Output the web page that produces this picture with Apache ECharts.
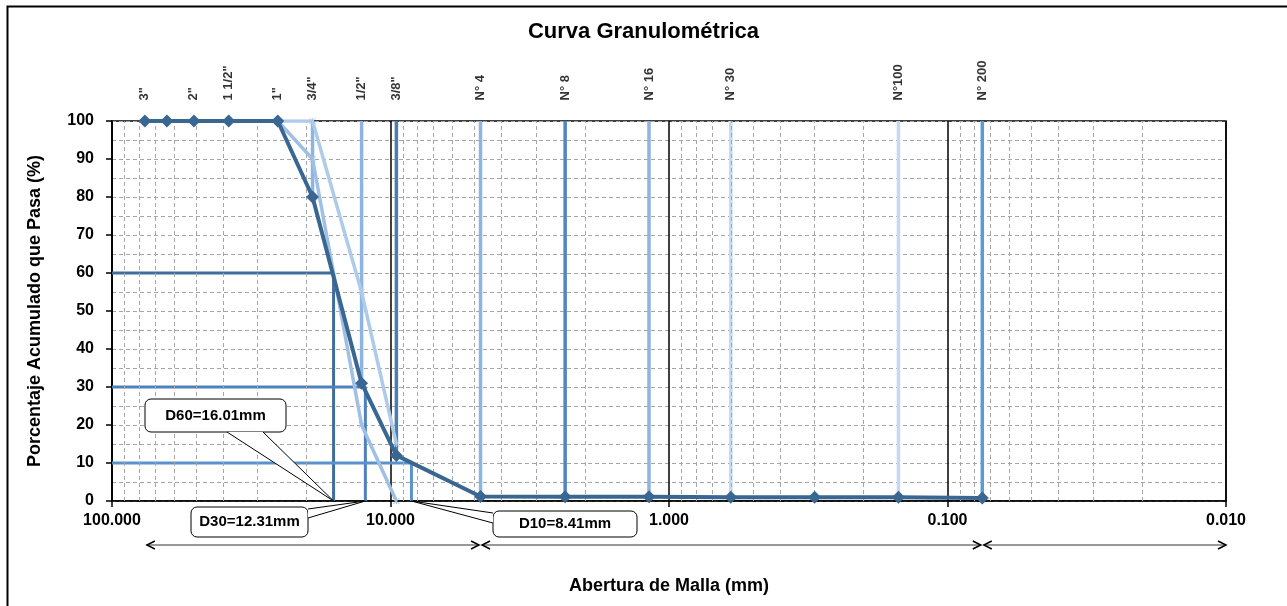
<!DOCTYPE html>
<html><head><meta charset="utf-8">
<script src="https://cdn.jsdelivr.net/npm/echarts@6/dist/echarts.min.js"></script>
<style>html,body{margin:0;padding:0;background:#fff}#c{width:1287px;height:606px}</style>
</head><body><div id="c"></div>
<script>
const FONT = "'Liberation Sans',Arial,Helvetica,sans-serif";

// Sieve names and openings (mm)
const sieveNames = ['3"','2"','1 1/2"','1"','3/4"','1/2"','3/8"','N° 4','N° 8','N° 16','N° 30','N°100','N° 200'];
const sieveOpenings = [76.2,50.8,38.1,25.4,19.05,12.7,9.525,4.75,2.36,1.18,0.6,0.15,0.075];

// Granulometric curve (mm, % passing)
const curveSizes = [76.2,63.5,50.8,38.1,25.4,19.05,12.7,9.525,4.75,2.36,1.18,0.6,0.3,0.15,0.075];
const curvePassing = [100,100,100,100,100,80,31,12,1.2,1.1,1.1,1.0,1.0,1.0,0.8];

// Specification band
const bandSizes = [25.4,19.05,12.7,9.525];
const bandUpper = [100,100,55,15];
const bandLower = [100,90,20,0];

// Sieve reference lines (from 100% down to the curve)
const refSieves = [19.05,12.7,9.525,4.75,2.36,1.18,0.6,0.15,0.075];
const refPassing = [80,31,12,1.2,1.1,1.1,1.0,1.0,0.8];
const refColors = ['#8db4e2','#8db4e2','#4a7db0','#8db4e2','#4f86c0','#8db4e2','#c5d9f1','#c5d9f1','#5b9bd5'];

// Effective diameters
const dNames = ['D60','D30','D10'];
const dPercent = [60,30,10];
const dSizes = [16.01,12.31,8.41];
const dColors = ['#3f6e9c','#4f81bd','#5a92cc'];

// Soil fraction arrows (boundaries, mm)
const fractionBounds = [76.2,4.75,0.075,0.01];

// Axis
const xMin = 0.01, xMax = 100;
const minorGrid = [];
[10,1,0.1,0.01].forEach(d=>{for(let m=2;m<=9;m++) minorGrid.push(+(m*d).toPrecision(3));});

const chart = echarts.init(document.getElementById('c'));
const series = [];
series.push({type:'line', data:[], z:1, silent:true,
  markLine:{silent:true, symbol:'none', animation:false, label:{show:false},
    lineStyle:{type:[4,3], color:'#a6a6a6', width:1},
    data: minorGrid.map(v=>({xAxis:v}))}});
refSieves.forEach((s,i)=>{
  series.push({type:'line', data:[[s,100],[s,refPassing[i]]], symbol:'none', z:3,
    lineStyle:{color:refColors[i], width:3.5}});
});
dSizes.forEach((d,i)=>{
  series.push({type:'line', data:[[xMax,dPercent[i]],[d,dPercent[i]],[d,0]], symbol:'none', z:4,
    lineStyle:{color:dColors[i], width:3}});
});
const crossSym = 'path://M0,0L10,10M10,0L0,10M5,0L5,10';
series.push({type:'line', data:bandSizes.map((s,i)=>[s,bandLower[i]]), z:5,
  symbol:crossSym, symbolSize:6, itemStyle:{color:'#9fc0e4', borderColor:'#9fc0e4', borderWidth:1},
  lineStyle:{color:'#9fc0e4', width:3.5}});
series.push({type:'line', data:bandSizes.map((s,i)=>[s,bandUpper[i]]), z:5,
  symbol:crossSym, symbolSize:6, itemStyle:{color:'#aecbea', borderColor:'#aecbea', borderWidth:1},
  lineStyle:{color:'#aecbea', width:3.5}});
series.push({type:'line', data:curveSizes.map((s,i)=>[s,curvePassing[i]]), z:8,
  symbol:'diamond', symbolSize:13, itemStyle:{color:'#3a6792'},
  lineStyle:{color:'#3a6792', width:4}});
series.push({type:'scatter', data:sieveOpenings.map((s,i)=>({value:[s,100], name:sieveNames[i]})), z:9,
  symbolSize:1, itemStyle:{color:'rgba(0,0,0,0)'}, silent:true,
  label:{show:true, formatter:p=>p.name, position:'top', distance:20, rotate:90,
    align:'left', verticalAlign:'middle', fontFamily:FONT, fontWeight:'bold', fontSize:13, color:'#000'}});

chart.setOption({
  animation:false,
  title:{text:'Curva Granulométrica', left:'center', top:16,
    textStyle:{fontFamily:FONT, fontWeight:'bold', fontSize:22, color:'#000'}},
  grid:{left:112, right:61, top:121, bottom:105, show:true, borderColor:'#000', borderWidth:1.5, backgroundColor:'transparent'},
  xAxis:{type:'log', logBase:10, min:xMin, max:xMax, inverse:true,
    name:'Abertura de Malla (mm)', nameLocation:'middle', nameGap:76,
    nameTextStyle:{fontFamily:FONT, fontWeight:'bold', fontSize:18, color:'#000'},
    axisLine:{lineStyle:{color:'#000', width:1.5}},
    axisTick:{show:true, length:6, lineStyle:{color:'#000', width:1.5}},
    axisLabel:{formatter:v=>Number(v).toFixed(3), margin:12, fontFamily:FONT, fontWeight:'bold', fontSize:16, color:'#000'},
    splitLine:{show:true, lineStyle:{color:'#000', width:1.5}}},
  yAxis:{type:'value', min:0, max:100, interval:10,
    name:'Porcentaje Acumulado que Pasa (%)', nameLocation:'middle', nameGap:68,
    nameTextStyle:{fontFamily:FONT, fontWeight:'bold', fontSize:18, color:'#000'},
    axisLine:{show:true, lineStyle:{color:'#000', width:1.5}},
    axisTick:{show:true, length:6, lineStyle:{color:'#000', width:1.5}},
    axisLabel:{margin:18, fontFamily:FONT, fontWeight:'bold', fontSize:16, color:'#000'},
    splitLine:{show:true, lineStyle:{type:[4,3], color:'#a6a6a6', width:1}},
    minorTick:{show:false, splitNumber:2},
    minorSplitLine:{show:true, lineStyle:{type:[4,3], color:'#a6a6a6', width:1}}},
  series
});

// Annotations (callouts + fraction arrows), placed with the axis scale
const px = v => chart.convertToPixel({xAxisIndex:0, yAxisIndex:0}, v);
const graphics = [];
graphics.push({type:'rect', left:5, top:4, shape:{x:0,y:0,width:1300,height:620}, z:100,
  style:{fill:'none', stroke:'#000', lineWidth:2}, silent:true});
const boxes = [
  {x:145,y:399,w:141,h:33, base:[[227,432],[263,432]]},
  {x:191,y:507,w:117,h:30, base:[[308,509],[308,518]]},
  {x:493,y:511,w:144,h:26, base:[[493,513],[493,523]]}
];
dSizes.forEach((d,i)=>{
  const tip = px([d,0]);
  const b = boxes[i];
  graphics.push({type:'rect', shape:{x:b.x,y:b.y,width:b.w,height:b.h,r:6}, z:50,
    style:{fill:'#fff', stroke:'#000', lineWidth:1}});
  graphics.push({type:'polygon', shape:{points:[b.base[0],tip,b.base[1]]}, z:51,
    style:{fill:'#fff', stroke:null}});
  graphics.push({type:'polyline', shape:{points:[b.base[0],tip,b.base[1]]}, z:52,
    style:{stroke:'#000', lineWidth:1, fill:null}});
  graphics.push({type:'text', x:b.x+b.w/2, y:b.y+b.h/2, z:53,
    style:{text:dNames[i]+'='+dSizes[i].toFixed(2)+'mm', fill:'#000', font:'bold 15px '+FONT,
      textAlign:'center', textVerticalAlign:'middle'}});
});
const ay = 545;
for (let i=0;i<fractionBounds.length-1;i++){
  const a = px([fractionBounds[i],0])[0] + (i===0?2:1.5);
  const b = px([fractionBounds[i+1],0])[0] - (i===fractionBounds.length-2?0:1.5);
  graphics.push({type:'line', shape:{x1:a,y1:ay,x2:b,y2:ay}, z:60, style:{stroke:'#333', lineWidth:1}});
  graphics.push({type:'polyline', shape:{points:[[a+8,ay-4],[a,ay],[a+8,ay+4]]}, z:60, style:{stroke:'#000', lineWidth:1.5, fill:null}});
  graphics.push({type:'polyline', shape:{points:[[b-8,ay-4],[b,ay],[b-8,ay+4]]}, z:60, style:{stroke:'#000', lineWidth:1.5, fill:null}});
}
chart.setOption({graphic:graphics});
</script></body></html>
